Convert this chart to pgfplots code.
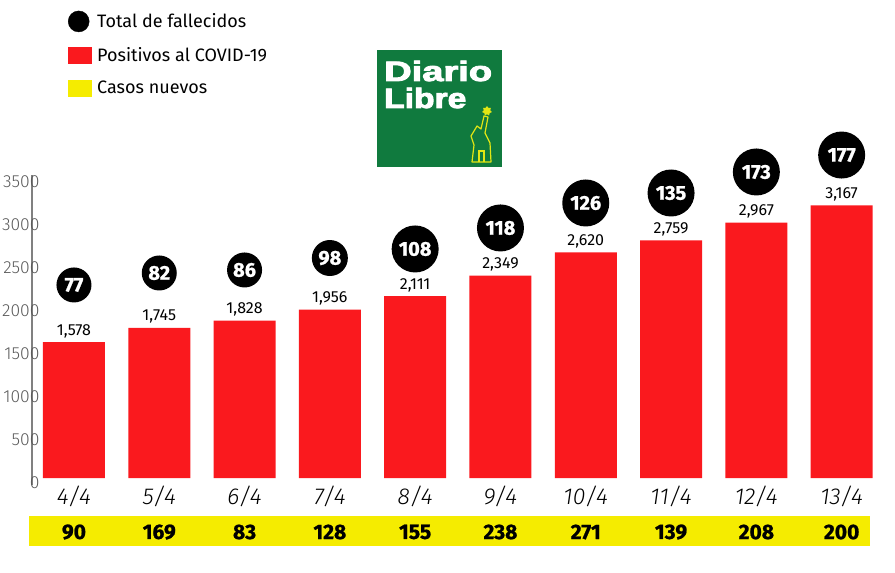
\documentclass[border=0pt]{standalone}
\usepackage{pgfplots}
\pgfplotsset{compat=1.18}
\usepackage{pgfplotstable}
\usepackage{graphicx}
\usepackage{fontspec}
\setmainfont{Fira Sans}
\newfontfamily\logofont{Liberation Sans}[FakeBold=3]
\newfontfamily\heavyfont{Fira Sans}[FakeBold=1]
\newfontfamily\lightfont{Fira Sans Light}
\usetikzlibrary{shapes.geometric}
\definecolor{barred}{RGB}{250,25,30}
\definecolor{bandyellow}{RGB}{245,236,0}
\definecolor{logogreen}{RGB}{16,122,62}
\definecolor{logoyellow}{RGB}{225,230,20}
\definecolor{tickgray}{RGB}{90,90,90}

\pgfplotstableread{
x val  ypos deaths d  nc  ncy
0 1578 2242 77  35 90  -627
1 1745 2381 82  35 169 -627
2 1828 2416 86  35 83  -627
3 1956 2555 98  36 128 -627
4 2111 2660 108 47 155 -627
5 2349 2904 118 47 238 -627
6 2620 3194 126 47 271 -627
7 2759 3310 135 47 139 -627
8 2967 3554 173 47 208 -627
9 3167 3751 177 47 200 -627
}\datatable

\begin{document}
\begin{tikzpicture}
\path[use as bounding box] (0pt,0pt) rectangle (895pt,573pt);
\fill[bandyellow] (29pt,27pt) rectangle (870pt,57pt);
\begin{axis}[
  at={(32pt,88pt)}, anchor=south west,
  scale only axis, width=852.3pt, height=310pt,
  xmin=-0.492, xmax=9.5, ymin=-81, ymax=3519,
  axis lines=left, axis line style={-},
  x axis line style={draw=none},
  y axis line style={draw=gray, line width=1.1pt},
  major tick length=0pt,
  xtick={0,...,9},
  xticklabels={4/4,5/4,6/4,7/4,8/4,9/4,10/4,11/4,12/4,13/4},
  ytick={0,500,...,3500},
  clip=false,
  /pgf/number format/assume math mode=true,
  /pgf/number format/1000 sep={},
  yticklabel style={anchor=east, xshift=11pt, yshift=-5pt, font=\lightfont\fontsize{17.5}{17.5}\selectfont, text=tickgray},
  xticklabel style={anchor=base, yshift=-20pt, font=\lightfont\fontsize{23}{23}\selectfont\itshape},
  legend cell align=left,
  legend style={at={(axis description cs:0.0385,1.537)}, anchor=north west, draw=none, fill=none,
    font=\fontsize{18}{18}\selectfont, row sep=13.5pt},
]
\addplot[ybar, bar width=62pt, bar shift=0pt, fill=barred, draw=none, forget plot,
  nodes near coords={\pgfmathprintnumber[fixed, precision=0, 1000 sep={,}]{\pgfplotspointmeta}},
  nodes near coords style={anchor=base, yshift=7pt, font=\fontsize{16}{16}\selectfont, text=black}]
  table[x=x, y=val] \datatable;

\addplot[draw=none, mark=none, forget plot,
  visualization depends on={\thisrow{d}\as\diam},
  point meta=explicit symbolic,
  nodes near coords,
  nodes near coords style={anchor=center, circle, fill=black, text=white, inner sep=0pt,
    minimum size=\diam pt, font=\heavyfont\fontsize{20}{20}\selectfont\bfseries}]
  table[x=x, y=ypos, meta=deaths] \datatable;

\addplot[draw=none, mark=none, forget plot,
  point meta=explicit symbolic,
  nodes near coords,
  nodes near coords style={anchor=center, text=black, font=\heavyfont\fontsize{21}{21}\selectfont\bfseries}]
  table[x=x, y=ncy, meta=nc] \datatable;

\addlegendimage{legend image code/.code={\fill[black] (10.5pt,0pt) circle (10.5pt); \path[draw=none,fill=none] (0pt,-0.1pt) rectangle (27pt,0.1pt);}}
\addlegendentry{Total de fallecidos}
\addlegendimage{legend image code/.code={\fill[barred] (0pt,-8pt) rectangle (23pt,8pt); \path[draw=none,fill=none] (0pt,-0.1pt) rectangle (27pt,0.1pt);}}
\addlegendentry{Positivos al COVID-19}
\addlegendimage{legend image code/.code={\fill[bandyellow] (0pt,-8pt) rectangle (23pt,8pt); \path[draw=none,fill=none] (0pt,-0.1pt) rectangle (27pt,0.1pt);}}
\addlegendentry{Casos nuevos}
\end{axis}
% logo
\fill[logogreen] (377pt,406pt) rectangle (502pt,523pt);
\node[anchor=base west, inner sep=0pt, text=white, align=left, font=\logofont\bfseries\fontsize{28}{27}\selectfont] at (384pt,465pt) {\scalebox{1.36}[1]{Diario}\\\scalebox{1.2}[1]{Libre}};
\draw[logoyellow, line width=1.2pt, line join=round]
  (472pt,411pt) -- (474pt,428pt) -- (471pt,437pt) -- (477pt,447pt) -- (481pt,444pt) -- (484pt,457pt)
  -- (488pt,456pt) -- (485pt,440pt) -- (490pt,430pt) -- (491pt,411pt) -- cycle;
\draw[logoyellow, line width=1.2pt] (479pt,411pt) -- (479pt,422pt) -- (484pt,422pt) -- (484pt,411pt);
\node[star, star points=7, fill=logoyellow, minimum size=10pt, inner sep=0pt] at (487pt,462pt) {};
\end{tikzpicture}
\end{document}
